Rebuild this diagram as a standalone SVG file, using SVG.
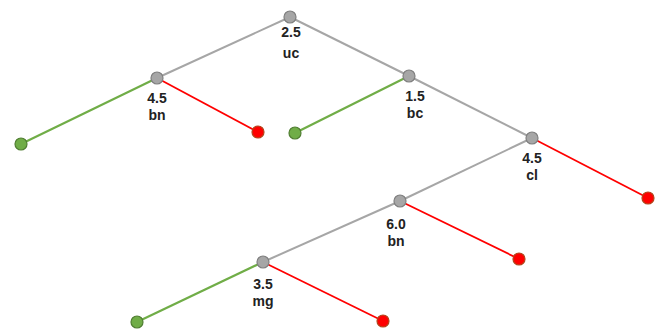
<svg xmlns="http://www.w3.org/2000/svg" width="661" height="329" viewBox="0 0 661 329">
<style>
.g{stroke:#A6A6A6;stroke-width:2;fill:none}
.gr{stroke:#70AD47;stroke-width:2.2;fill:none}
.r{stroke:#FF0000;stroke-width:1.8;fill:none}
.n{fill:#A6A6A6;stroke:#7F7F7F;stroke-width:1.2}
.lg{fill:#70AD47;stroke:#507E32;stroke-width:1.2}
.lr{fill:#FF0000;stroke:#B4441B;stroke-width:1.2}
text{font-family:"Liberation Sans",Arial,sans-serif;font-weight:bold;font-size:14px;fill:#222222;text-anchor:middle}
</style>
<rect width="661" height="329" fill="#FFFFFF"/>
<g id="connectors">
<line class="g" x1="290" y1="17" x2="157" y2="78"/>
<line class="g" x1="290" y1="17" x2="409" y2="76"/>
<line class="gr" x1="157" y1="78" x2="21" y2="144"/>
<line class="r" x1="157" y1="78" x2="258" y2="132"/>
<line class="gr" x1="409" y1="76" x2="295" y2="133"/>
<line class="g" x1="409" y1="76" x2="532" y2="138"/>
<line class="r" x1="532" y1="138" x2="648" y2="198"/>
<line class="g" x1="532" y1="138" x2="400" y2="201"/>
<line class="r" x1="400" y1="201" x2="519" y2="259"/>
<line class="g" x1="400" y1="201" x2="263" y2="262"/>
<line class="gr" x1="263" y1="262" x2="137" y2="322"/>
<line class="r" x1="263" y1="262" x2="383" y2="321"/>
</g>
<g id="n-uc"><circle class="n" cx="290" cy="17" r="6"/><text x="291" y="37">2.5</text><text x="291" y="58">uc</text></g>
<g id="n-bn1"><circle class="n" cx="157" cy="78" r="6"/><text x="157" y="103">4.5</text><text x="157" y="120">bn</text></g>
<g id="n-bc"><circle class="n" cx="409" cy="76" r="6"/><text x="415" y="101">1.5</text><text x="415" y="118">bc</text></g>
<g id="n-cl"><circle class="n" cx="532" cy="138" r="6"/><text x="532" y="163">4.5</text><text x="532" y="180">cl</text></g>
<g id="n-bn2"><circle class="n" cx="400" cy="201" r="6"/><text x="396" y="229">6.0</text><text x="396" y="246">bn</text></g>
<g id="n-mg"><circle class="n" cx="263" cy="262" r="6"/><text x="263" y="289">3.5</text><text x="263" y="306">mg</text></g>
<g id="leaf1"><circle class="lg" cx="21" cy="144" r="6"/></g>
<g id="leaf2"><circle class="lr" cx="258" cy="132" r="6"/></g>
<g id="leaf3"><circle class="lg" cx="295" cy="133" r="6"/></g>
<g id="leaf4"><circle class="lr" cx="648" cy="198" r="6"/></g>
<g id="leaf5"><circle class="lr" cx="519" cy="259" r="6"/></g>
<g id="leaf6"><circle class="lg" cx="137" cy="322" r="6"/></g>
<g id="leaf7"><circle class="lr" cx="383" cy="321" r="6"/></g>
</svg>
